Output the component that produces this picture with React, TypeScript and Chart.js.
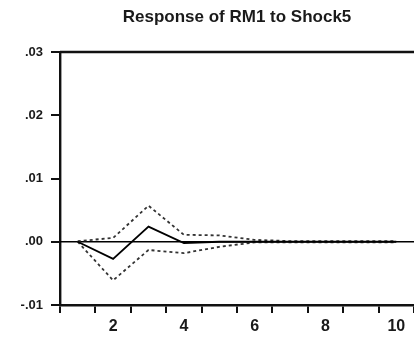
import React, { useEffect, useRef } from "react";
import { Chart, registerables } from "chart.js";

Chart.register(...registerables);

const periods = ["1", "2", "3", "4", "5", "6", "7", "8", "9", "10"];
const response = [0, -0.0027, 0.0024, -0.0002, 0.0, 0.0, 0.0, 0.0, 0.0, 0.0];
const upperBand = [0.0001, 0.0006, 0.0057, 0.0011, 0.001, 0.0003, 0.0001, 0.0001, 0.0001, 0.0001];
const lowerBand = [0.0, -0.0061, -0.0013, -0.0018, -0.0008, -0.0001, -0.0001, -0.0001, -0.0001, -0.0001];
const yTicks = [-0.01, 0.0, 0.01, 0.02, 0.03];
const titleText = "Response of RM1 to Shock5";

const FONT = "'Liberation Sans', Arial, sans-serif";

const fmt = (v: number) => {
  const s = v.toFixed(2);
  return s.replace(/^(-?)0\./, "$1.");
};

const framePlugin = {
  id: "frame",
  beforeDatasetsDraw(chart: any) {
    const { ctx, chartArea, scales } = chart;
    const y0 = scales.y.getPixelForValue(0);
    ctx.save();
    ctx.strokeStyle = "#000";
    ctx.lineWidth = 1.6;
    ctx.beginPath();
    ctx.moveTo(chartArea.left, y0);
    ctx.lineTo(chartArea.right, y0);
    ctx.stroke();
    ctx.lineWidth = 2.4;
    ctx.strokeStyle = "#111";
    ctx.beginPath();
    ctx.moveTo(chartArea.left, chartArea.top);
    ctx.lineTo(chartArea.right, chartArea.top);
    ctx.stroke();
    ctx.restore();
  },
};

export default function App() {
  const ref = useRef<HTMLCanvasElement | null>(null);
  useEffect(() => {
    document.body.style.margin = "0";
    const canvas = ref.current!;
    const chart = new Chart(canvas, {
      type: "line",
      data: {
        labels: periods,
        datasets: [
          {
            label: "Response",
            data: response,
            borderColor: "#000",
            borderWidth: 1.8,
            pointRadius: 0,
            tension: 0,
          },
          {
            label: "Upper",
            data: upperBand,
            borderColor: "#333",
            borderWidth: 1.8,
            borderDash: [3, 3],
            pointRadius: 0,
            tension: 0,
          },
          {
            label: "Lower",
            data: lowerBand,
            borderColor: "#333",
            borderWidth: 1.8,
            borderDash: [3, 3],
            pointRadius: 0,
            tension: 0,
          },
        ],
      },
      options: {
        responsive: false,
        animation: false,
        layout: { padding: 0 },
        plugins: {
          legend: { display: false },
          tooltip: { enabled: false },
          title: {
            display: true,
            text: titleText,
            fullSize: false,
            color: "#1a1a1a",
            font: { family: FONT, size: 17, weight: "bold" },
            padding: { top: 7, bottom: 24.6 },
          },
        },
        scales: {
          x: {
            type: "category",
            offset: true,
            grid: {
              offset: true,
              drawOnChartArea: false,
              drawTicks: true,
              tickLength: 8,
              color: "#111",
              lineWidth: 2,
            },
            border: { display: true, color: "#111", width: 2.4 },
            ticks: {
              autoSkip: false,
              maxRotation: 0,
              color: "#1a1a1a",
              padding: 4,
              font: { family: FONT, size: 16, weight: "bold" },
              callback: (_v: any, i: number) => ((i + 1) % 2 === 0 ? periods[i] : ""),
            },
            afterFit: (s: any) => {
              s.height = 36;
            },
          },
          y: {
            type: "linear",
            min: yTicks[0],
            max: yTicks[yTicks.length - 1],
            afterBuildTicks: (s: any) => {
              s.ticks = yTicks.map((v) => ({ value: v }));
            },
            grid: {
              drawOnChartArea: false,
              drawTicks: true,
              tickLength: 9,
              color: "#111",
              lineWidth: 2,
            },
            border: { display: true, color: "#111", width: 2.4 },
            ticks: {
              color: "#1a1a1a",
              padding: 8,
              font: { family: FONT, size: 13, weight: "bold" },
              callback: (v: any) => fmt(Number(v)),
            },
            afterFit: (s: any) => {
              s.width = 60;
            },
          },
        },
      },
      plugins: [framePlugin],
    });
    return () => chart.destroy();
  }, []);
  return (
    <div style={{ position: "absolute", left: 0, top: 0, width: 414, height: 341, background: "#fff" }}>
      <canvas ref={ref} width={414} height={341} style={{ width: 414, height: 341, display: "block" }} />
    </div>
  );
}
